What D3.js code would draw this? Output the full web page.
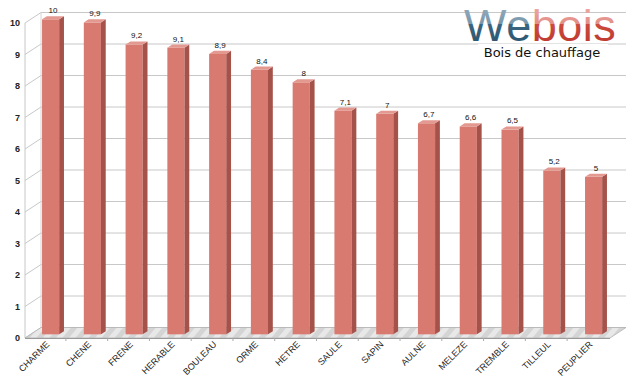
<!DOCTYPE html>
<html>
<head>
<meta charset="utf-8">
<script src="https://cdn.jsdelivr.net/npm/d3@7"></script>
<style>
  body { margin: 0; background: #fff; }
  svg { display: block; font-family: "Liberation Sans", Arial, sans-serif; }
</style>
</head>
<body>
<svg id="chart" width="640" height="382"></svg>
<script>
// essences de bois et pouvoir calorifique (echelle 0-10)
const woods = ["CHARME", "CHENE", "FRENE", "HERABLE", "BOULEAU", "ORME", "HETRE",
  "SAULE", "SAPIN", "AULNE", "MELEZE", "TREMBLE", "TILLEUL", "PEUPLIER"];
const values = [10, 9.9, 9.2, 9.1, 8.9, 8.4, 8, 7.1, 7, 6.7, 6.6, 6.5, 5.2, 5];
const yTicks = [0, 1, 2, 3, 4, 5, 6, 7, 8, 9, 10];

const svg = d3.select('#chart');
const defs = svg.append('defs');

// depth of the 3d box and of the bars
const depth = { dx: 16, dy: -10.5 };
const barFront = 0.35, barBack = 0.65;
const left = 25, right = 610, bottom = 338;

const x = d3.scaleBand().domain(woods).range([left, 608]).paddingInner(0.59).paddingOuter(0.274);
const y = d3.scaleLinear().domain([0, 10]).range([bottom, 23]);

// floor stripes
const pat = defs.append('pattern')
  .attr('id', 'floorPat')
  .attr('patternUnits', 'userSpaceOnUse')
  .attr('width', 10).attr('height', 10)
  .attr('patternTransform', 'rotate(40)');
pat.append('rect').attr('width', 10).attr('height', 10).attr('fill', '#d4d4d4');
pat.append('rect').attr('width', 5).attr('height', 10).attr('fill', '#e8e8e8');

const grid = svg.append('g');

// back wall gridlines + diagonals on the side wall
yTicks.forEach(t => {
  grid.append('line')
    .attr('x1', left + depth.dx).attr('x2', right + depth.dx)
    .attr('y1', y(t) + depth.dy).attr('y2', y(t) + depth.dy)
    .attr('stroke', '#c8c8c8').attr('stroke-width', 1);
  grid.append('line')
    .attr('x1', left).attr('x2', left + depth.dx)
    .attr('y1', y(t)).attr('y2', y(t) + depth.dy)
    .attr('stroke', '#c8c8c8').attr('stroke-width', 1);
});
grid.append('line')
  .attr('x1', left + depth.dx).attr('x2', left + depth.dx)
  .attr('y1', y(0) + depth.dy).attr('y2', y(10) + depth.dy)
  .attr('stroke', '#d4d4d4');
grid.append('line')
  .attr('x1', left).attr('x2', left)
  .attr('y1', y(0)).attr('y2', y(10))
  .attr('stroke', '#c8c8c8');

// floor
svg.append('path')
  .attr('d', `M${left},${bottom} L${right},${bottom} L${right + depth.dx},${bottom + depth.dy} L${left + depth.dx},${bottom + depth.dy} Z`)
  .attr('fill', 'url(#floorPat)')
  .attr('stroke', '#b4b4b4').attr('stroke-width', 0.8);
svg.append('line')
  .attr('x1', left).attr('x2', right)
  .attr('y1', bottom + 0.5).attr('y2', bottom + 0.5)
  .attr('stroke', '#9a9a9a');

// category ticks under the floor
woods.slice(1).forEach(w => {
  const bx = x(w) - x.step() * x.paddingInner() / 2;
  svg.append('line')
    .attr('x1', bx).attr('x2', bx)
    .attr('y1', bottom).attr('y2', bottom + 3)
    .attr('stroke', '#aaa');
});

// y labels
svg.append('g').selectAll('text')
  .data(yTicks)
  .enter()
  .append('text')
  .attr('x', 20)
  .attr('y', d => y(d) + 3)
  .attr('text-anchor', 'end')
  .style('font-size', '9px')
  .style('font-weight', 'bold')
  .attr('fill', '#222')
  .text(d => d);

// bars
const fx = barFront * depth.dx, fy = barFront * depth.dy;
const sx = (barBack - barFront) * depth.dx, sy = (barBack - barFront) * depth.dy;
const w = x.bandwidth();

const bars = svg.append('g').selectAll('g')
  .data(woods.map((d, i) => ({ name: d, value: values[i] })))
  .enter()
  .append('g')
  .attr('transform', d => `translate(${x(d.name) + fx},${fy})`);

bars.append('rect')
  .attr('x', 0)
  .attr('y', d => y(d.value))
  .attr('width', w)
  .attr('height', d => y(0) - y(d.value))
  .attr('fill', '#d97a70');

bars.append('path')
  .attr('d', d => `M${w},${y(d.value)} L${w + sx},${y(d.value) + sy} L${w + sx},${y(0) + sy} L${w},${y(0)} Z`)
  .attr('fill', '#a5524a');

bars.append('path')
  .attr('d', d => `M0,${y(d.value)} L${sx},${y(d.value) + sy} L${w + sx},${y(d.value) + sy} L${w},${y(d.value)} Z`)
  .attr('fill', '#e39890');

bars.append('text')
  .attr('x', w / 2 + sx / 2)
  .attr('y', d => y(d.value) + sy - 3)
  .attr('text-anchor', 'middle')
  .style('font-size', '8px')
  .attr('fill', '#111')
  .text(d => String(d.value).replace('.', ','));

// x labels, rotated
svg.append('g').selectAll('text')
  .data(woods)
  .enter()
  .append('text')
  .attr('transform', d => `translate(${x(d) + w / 2 + 5},${bottom + 7}) rotate(-45)`)
  .attr('text-anchor', 'end')
  .style('font-size', '9px')
  .attr('fill', '#222')
  .text(d => d);

// logo
const gWe = defs.append('linearGradient').attr('id', 'gWe').attr('x1', 0).attr('x2', 0).attr('y1', 0).attr('y2', 1);
gWe.append('stop').attr('offset', '0%').attr('stop-color', '#9bb3c2');
gWe.append('stop').attr('offset', '48%').attr('stop-color', '#7896aa');
gWe.append('stop').attr('offset', '48%').attr('stop-color', '#3a6580');
gWe.append('stop').attr('offset', '100%').attr('stop-color', '#274f68');
const gBois = defs.append('linearGradient').attr('id', 'gBois').attr('x1', 0).attr('x2', 0).attr('y1', 0).attr('y2', 1);
gBois.append('stop').attr('offset', '0%').attr('stop-color', '#f0b4ae');
gBois.append('stop').attr('offset', '48%').attr('stop-color', '#e28c85');
gBois.append('stop').attr('offset', '48%').attr('stop-color', '#cc4a3e');
gBois.append('stop').attr('offset', '100%').attr('stop-color', '#b8322a');

const logo = svg.append('text')
  .attr('x', 464).attr('y', 41)
  .style('font-size', '45px')
  .style('letter-spacing', '0.5px');
logo.append('tspan').attr('fill', 'url(#gWe)').text('We');
logo.append('tspan').attr('fill', 'url(#gBois)').text('bois');

svg.append('rect')
  .attr('x', 478).attr('y', 44).attr('width', 130).attr('height', 16)
  .attr('fill', '#fff');
svg.append('text')
  .attr('x', 542).attr('y', 57)
  .attr('text-anchor', 'middle')
  .style('font-family', '"DejaVu Sans", sans-serif')
  .style('font-size', '13px')
  .attr('fill', '#111')
  .text('Bois de chauffage');
</script>
</body>
</html>
